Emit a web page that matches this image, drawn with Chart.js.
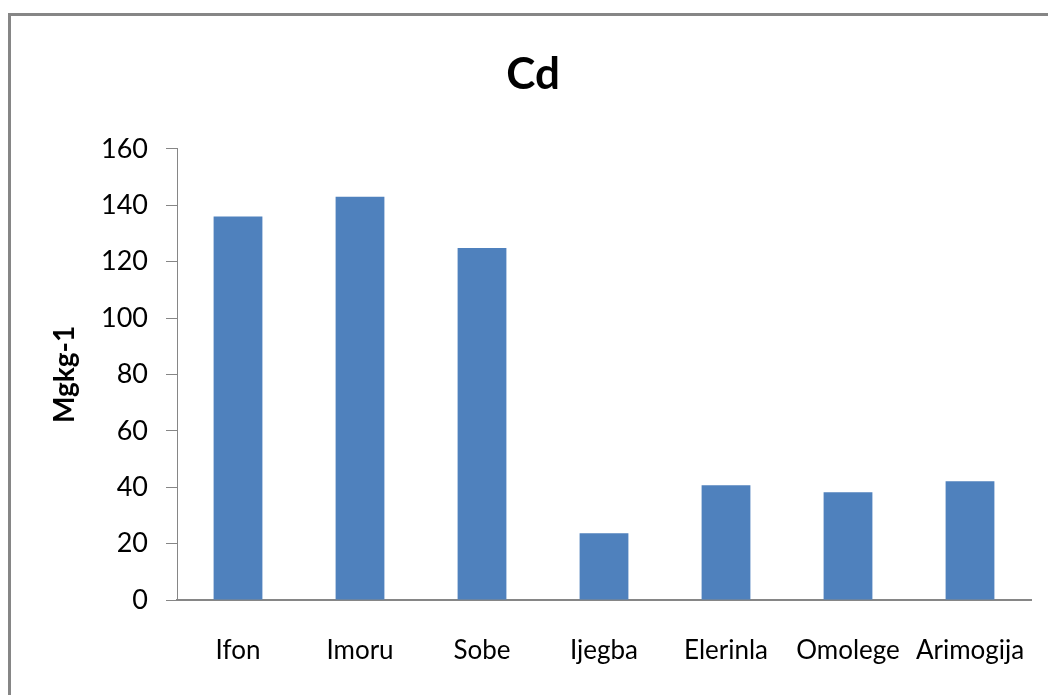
<!DOCTYPE html>
<html>
<head>
<meta charset="utf-8">
<script src="https://cdn.jsdelivr.net/npm/chart.js@4/dist/chart.umd.min.js"></script>
<style>
  body { margin: 0; background: #fff; overflow: hidden; }
  #frame { position: absolute; left: 8px; top: 13px; width: 1100px; height: 720px; border: 3px solid #868686; }
  #wrap { position: absolute; left: 0; top: 0; width: 1048px; height: 695px; }
</style>
</head>
<body>
<div id="frame"></div>
<div id="wrap"><canvas id="myChart"></canvas></div>
<script>
// sampling sites and Cd levels
const sites = ['Ifon', 'Imoru', 'Sobe', 'Ijegba', 'Elerinla', 'Omolege', 'Arimogija'];
const cdValues = [136, 143, 124.8, 23.7, 40.7, 38.2, 42.1];
const yTicks = [0, 20, 40, 60, 80, 100, 120, 140, 160];

const axisGray = '#868686';
const fontName = 'Lato';

const ctx = document.getElementById('myChart').getContext('2d');
const myChart = new Chart(ctx, {
  type: 'bar',
  data: {
    labels: sites,
    datasets: [{
      label: 'Cd',
      data: cdValues,
      backgroundColor: '#4F81BD',
      barPercentage: 0.4,
      categoryPercentage: 1.0
    }]
  },
  options: {
    responsive: true,
    maintainAspectRatio: false,
    animation: false,
    layout: { padding: { left: 18, right: 0, top: 0, bottom: 0 } },
    plugins: {
      legend: { display: false },
      tooltip: { enabled: false },
      title: {
        display: true,
        text: 'Cd',
        color: '#000',
        font: { family: fontName, size: 44, weight: 'bold', lineHeight: 1.2 },
        padding: { top: 48, bottom: 48 }
      }
    },
    scales: {
      x: {
        grid: { display: false, drawTicks: false },
        border: { display: true, color: axisGray, width: 2 },
        ticks: {
          color: '#000',
          font: { family: fontName, size: 26 },
          padding: 35,
          maxRotation: 0,
          autoSkip: false
        },
        afterFit: function (scale) {
          scale.height = 95;
          scale.paddingLeft = 0;
          scale.paddingRight = 17;
        }
      },
      y: {
        min: 0,
        max: 160,
        afterBuildTicks: function (scale) {
          scale.ticks = yTicks.map(v => ({ value: v }));
        },
        grid: {
          drawOnChartArea: false,
          drawTicks: true,
          tickLength: 11,
          color: axisGray
        },
        border: { display: true, color: axisGray, width: 1 },
        ticks: {
          color: '#000',
          font: { family: fontName, size: 27 },
          padding: 18
        },
        title: {
          display: true,
          text: 'Mgkg-1',
          color: '#000',
          font: { family: fontName, size: 28, weight: 'bold', lineHeight: 1.2 },
          padding: { top: 30, bottom: 0 }
        },
        afterFit: function (scale) { scale.width = 159; }
      }
    }
  }
});
</script>
</body>
</html>
